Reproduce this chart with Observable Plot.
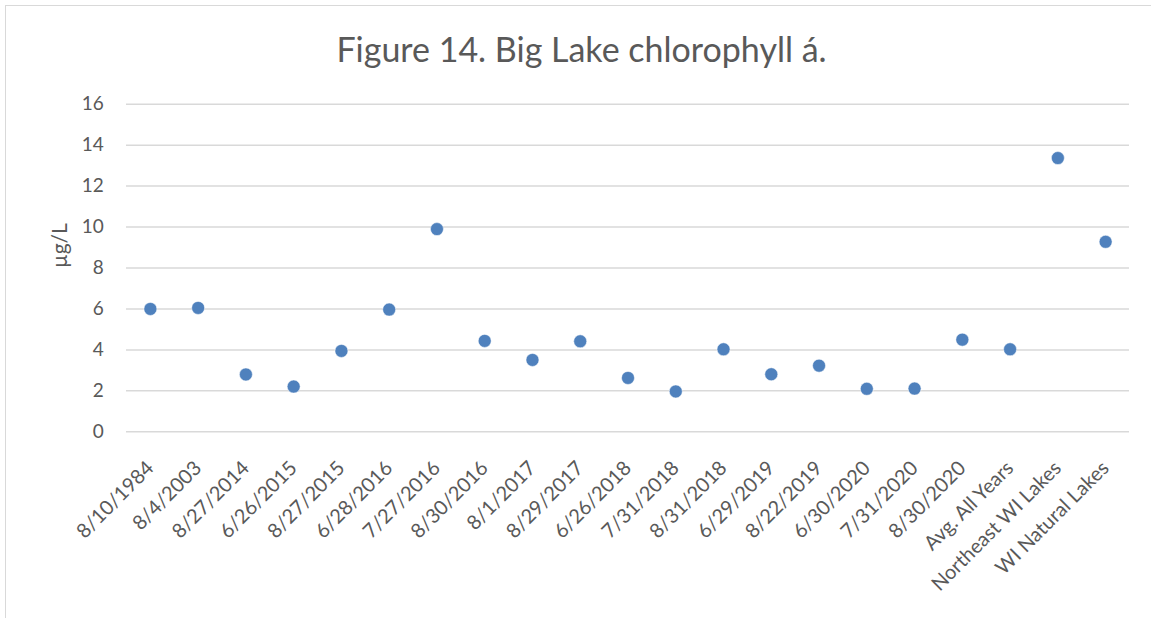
<!DOCTYPE html>
<html>
<head>
<meta charset="utf-8">
<script src="https://cdn.jsdelivr.net/npm/d3@7"></script>
<script src="https://cdn.jsdelivr.net/npm/@observablehq/plot@0.6"></script>
<style>
  html, body { margin: 0; padding: 0; background: #fff; }
  #wrap { position: relative; width: 1151px; height: 618px; overflow: hidden; background: #fff; }
  #frame { position: absolute; left: 5px; top: 5px; width: 1170px; height: 640px; border: 1.5px solid #d9d9d9; box-sizing: border-box; pointer-events: none; }
  #title { position: relative; height: 80px; box-sizing: border-box; padding-top: 31.5px; text-align: center; font-family: Lato, sans-serif; font-size: 34px; line-height: 34px; color: #595959; white-space: nowrap; }
  #title span { position: relative; left: 6px; }
  #chart svg { display: block; }
</style>
</head>
<body>
<div id="wrap">
  <div id="frame"></div>
  <div id="title"><span>Figure 14. Big Lake chlorophyll á.</span></div>
  <div id="chart"></div>
</div>
<script>
const categories = ["8/10/1984", "8/4/2003", "8/27/2014", "6/26/2015", "8/27/2015", "6/28/2016", "7/27/2016", "8/30/2016", "8/1/2017", "8/29/2017", "6/26/2018", "7/31/2018", "8/31/2018", "6/29/2019", "8/22/2019", "6/30/2020", "7/31/2020", "8/30/2020", "Avg. All Years", "Northeast WI Lakes", "WI Natural Lakes"];
const values = [6.0, 6.05, 2.8, 2.21, 3.95, 5.97, 9.9, 4.44, 3.51, 4.42, 2.63, 1.97, 4.03, 2.81, 3.23, 2.1, 2.11, 4.5, 4.03, 13.37, 9.28];
const yTicks = [0, 2, 4, 6, 8, 10, 12, 14, 16];
const yLabel = "µg/L";

const data = categories.map((c, i) => ({category: c, value: values[i]}));

const chart = Plot.plot({
  width: 1151,
  height: 538,
  marginTop: 23.7,
  marginBottom: 186.7,
  marginLeft: 126,
  marginRight: 22,
  style: {fontFamily: "Lato, sans-serif", fontSize: "19px", color: "#595959", background: "transparent"},
  x: {type: "band", domain: categories, paddingInner: 0, paddingOuter: 0, round: false},
  y: {domain: [0, 16]},
  marks: [
    Plot.ruleY(yTicks, {stroke: "#d9d9d9", strokeWidth: 1.5}),
    Plot.axisY({ticks: yTicks, tickSize: 0, tickPadding: 22.7, label: null, fontSize: 19}),
    Plot.axisX({tickRotate: -45, tickSize: 0, tickPadding: 33, label: null, fontSize: 20}),
    Plot.text([yLabel], {frameAnchor: "left", rotate: -90, dx: -66, fontSize: 21, lineAnchor: "middle", fill: "#595959"}),
    Plot.dot(data, {x: "category", y: "value", r: 6.5, fill: "#4f81bd", stroke: "#ffffff", strokeWidth: 0.5})
  ]
});
document.getElementById("chart").appendChild(chart);
</script>
</body>
</html>
